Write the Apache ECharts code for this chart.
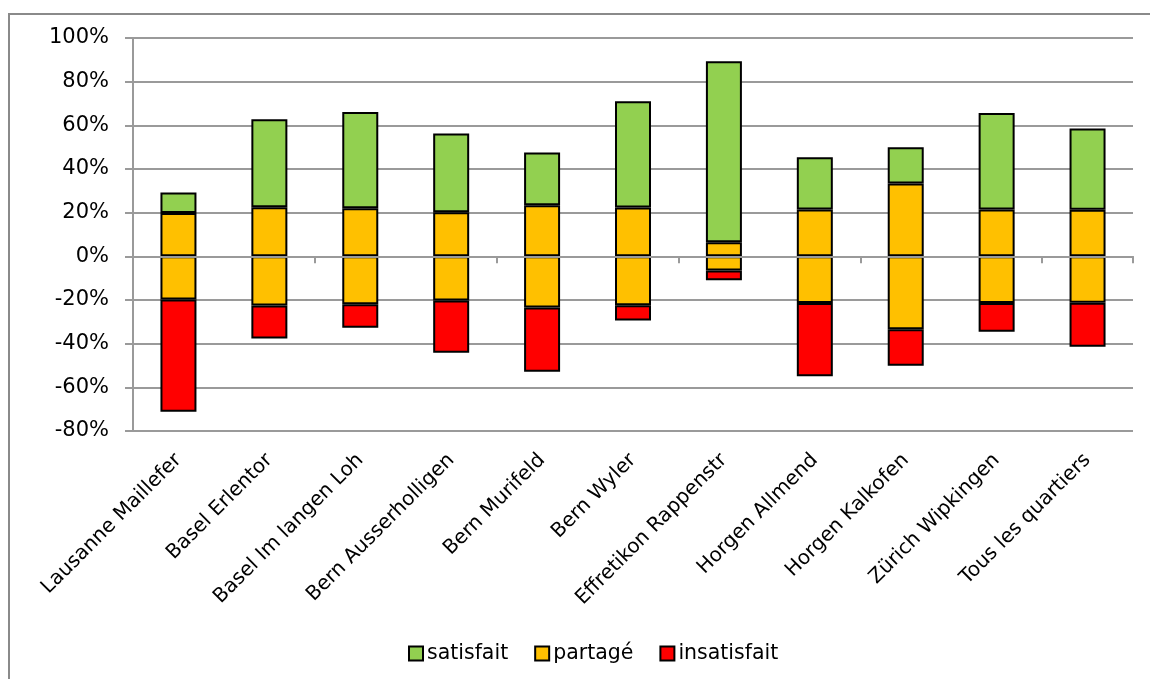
<!DOCTYPE html>
<html>
<head>
<meta charset="utf-8">
<script src="https://cdn.jsdelivr.net/npm/echarts@6/dist/echarts.min.js"></script>
<style>
html, body { margin: 0; padding: 0; background: #fff; }
#chart { width: 1150px; height: 679px; }
</style>
</head>
<body>
<div id="chart"></div>
<script>
var categories = ['Lausanne Maillefer', 'Basel Erlentor', 'Basel Im langen Loh', 'Bern Ausserholligen',
    'Bern Murifeld', 'Bern Wyler', 'Effretikon Rappenstr', 'Horgen Allmend', 'Horgen Kalkofen',
    'Zürich Wipkingen', 'Tous les quartiers'];
// parts en %, "partagé" est centré sur 0 (moitié en haut, moitié en bas)
var satisfait   = [9.4, 40.3, 44.1, 36.1, 24.2, 48.6, 82.9, 24.0, 16.6, 44.3, 37.3];
var partage     = [39.6, 45.0, 44.0, 40.4, 46.8, 44.8, 13.0, 42.8, 66.8, 42.8, 42.6];
var insatisfait = [51.4, 15.1, 10.7, 24.0, 29.5, 7.0, 4.4, 33.5, 16.7, 13.1, 20.1];
var yMin = -80, yMax = 100, yStep = 20;

var font = 'DejaVu Sans';
var gridColor = '#9a9a9a';

function drawSatisfaction(div_id) {
    var myChart = echarts.init(document.getElementById(div_id));
    var border = { borderColor: '#000', borderWidth: 2 };
    myChart.setOption({
        animation: false,
        textStyle: { fontFamily: font },
        graphic: [{
            type: 'rect',
            shape: { x: 9, y: 14, width: 1200, height: 700 },
            style: { fill: 'none', stroke: '#8a8a8a', lineWidth: 2 },
            silent: true
        }],
        legend: {
            data: ['satisfait', 'partagé', 'insatisfait'],
            left: 403,
            top: 638,
            itemWidth: 14,
            itemHeight: 14,
            itemGap: 26,
            icon: 'rect',
            itemStyle: { borderColor: '#000', borderWidth: 2 },
            textStyle: { fontFamily: font, fontSize: 20.5, color: '#000', padding: [0, 0, 0, -1] }
        },
        grid: { left: 133, right: 17, top: 38, bottom: 248 },
        xAxis: [
            {
                type: 'category',
                position: 'bottom',
                data: categories,
                axisLine: { show: false, onZero: false },
                axisTick: { show: false },
                axisLabel: {
                    interval: 0,
                    rotate: 45,
                    margin: 26,
                    fontSize: 20,
                    color: '#000',
                    fontFamily: font
                }
            },
            {
                // ligne du zéro, dessinée par-dessus les barres
                type: 'category',
                position: 'bottom',
                data: categories,
                z: 10,
                axisLine: { show: true, onZero: true, lineStyle: { color: gridColor, width: 2 } },
                axisTick: { show: true, inside: false, length: 7, lineStyle: { color: gridColor, width: 2 } },
                axisLabel: { show: false }
            }
        ],
        yAxis: {
            type: 'value',
            min: yMin,
            max: yMax,
            interval: yStep,
            axisLine: { show: true, lineStyle: { color: gridColor, width: 2 } },
            axisTick: { show: true, length: 8, lineStyle: { color: gridColor, width: 2 } },
            splitLine: { lineStyle: { color: gridColor, width: 2 } },
            axisLabel: {
                formatter: '{value}%',
                margin: 24,
                fontSize: 21,
                color: '#000',
                fontFamily: font
            }
        },
        series: [
            {
                name: 'partagé',
                type: 'bar',
                stack: 'tot',
                barWidth: 36,
                itemStyle: Object.assign({ color: '#FFC000' }, border),
                data: partage.map(function (v) { return v / 2; })
            },
            {
                name: 'satisfait',
                type: 'bar',
                stack: 'tot',
                itemStyle: Object.assign({ color: '#92D050' }, border),
                data: satisfait
            },
            {
                name: 'partagé',
                type: 'bar',
                stack: 'tot',
                itemStyle: Object.assign({ color: '#FFC000' }, border),
                data: partage.map(function (v) { return -v / 2; })
            },
            {
                name: 'insatisfait',
                type: 'bar',
                stack: 'tot',
                itemStyle: Object.assign({ color: '#FF0000' }, border),
                data: insatisfait.map(function (v) { return -v; })
            }
        ]
    });
}

drawSatisfaction('chart');
</script>
</body>
</html>
